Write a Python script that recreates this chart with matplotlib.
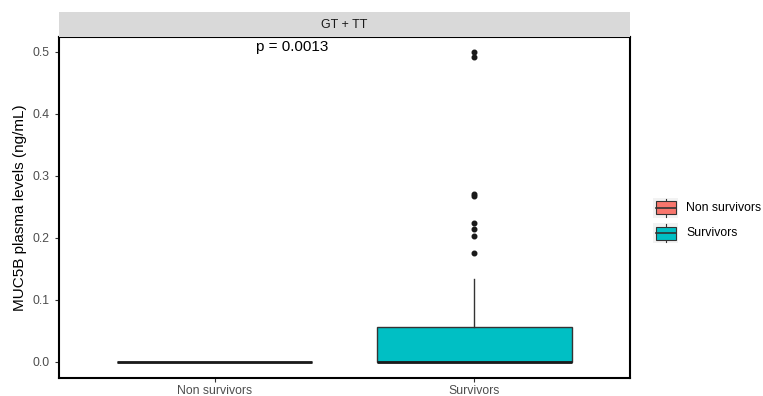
import matplotlib
matplotlib.use("Agg")
import matplotlib.pyplot as plt
from matplotlib.patches import Rectangle
from matplotlib.lines import Line2D

plt.rcParams['font.family'] = ['Liberation Sans', 'DejaVu Sans']

categories = ["Non survivors", "Survivors"]
colors = ["#F8766D", "#00BFC4"]
# box statistics (ng/mL)
q1 = [0.0, 0.0]
med = [0.0, 0.0]
q3 = [0.0, 0.0556]
whislo = [0.0, 0.0]
whishi = [0.0, 0.134]
outliers = [[], [0.500, 0.4925, 0.270, 0.267, 0.2247, 0.2140, 0.2032, 0.1763]]
facet = "GT + TT"
p_label = "p = 0.0013"
yticks = [0.0, 0.1, 0.2, 0.3, 0.4, 0.5]

W, H = 763, 396
fig = plt.figure(figsize=(W/100, H/100), dpi=100)
L, R, T, B = 59, 630, 37, 378
ax = fig.add_axes([L/W, 1 - B/H, (R-L)/W, (B-T)/H])

stats = []
for i in range(len(categories)):
    stats.append(dict(med=med[i], q1=q1[i], q3=q3[i], whislo=whislo[i],
                      whishi=whishi[i], fliers=outliers[i], label=categories[i]))
bp = ax.bxp(stats, positions=[1, 2], widths=0.75, patch_artist=True,
            showcaps=False,
            boxprops=dict(edgecolor="#333333", linewidth=1.0),
            medianprops=dict(color="#1a1a1a", linewidth=2.0),
            whiskerprops=dict(color="#333333", linewidth=1.0),
            flierprops=dict(marker="o", markerfacecolor="#1a1a1a",
                            markeredgecolor="#1a1a1a", markersize=3.3))
for patch, c in zip(bp["boxes"], colors):
    patch.set_facecolor(c)

ax.set_xlim(0.4, 2.6)
ax.set_ylim(-0.026, 0.524)
ax.set_yticks(yticks)
ax.set_yticklabels([f"{v:.1f}" for v in yticks])
ax.set_xticks([1, 2])
ax.set_xticklabels(categories)
ax.tick_params(axis="both", colors="#333333", labelcolor="#4D4D4D",
               labelsize=8.8, length=3, width=0.8)
ax.tick_params(axis="x", pad=2)
for s in ax.spines.values():
    s.set_linewidth(1.5)
    s.set_color("black")
ax.set_ylabel("MUC5B plasma levels (ng/mL)", fontsize=11, color="black", labelpad=4)

ax.text(1.3, 0.508, p_label, ha="center", va="center", fontsize=11, color="black")

# facet strip
sax = fig.add_axes([L/W, 1 - T/H, (R-L)/W, (T-12)/H])
sax.set_facecolor("#D9D9D9")
sax.set_xticks([]); sax.set_yticks([])
for s in sax.spines.values():
    s.set_visible(False)
sax.text(0.5, 0.5, facet, ha="center", va="center", fontsize=9, color="#1A1A1A",
         transform=sax.transAxes)

# legend (drawn in figure pixel coordinates)
def fx(x):
    return x / W
def fy(y):
    return 1 - y / H

key_centers = [208, 233]
for cy, c, lab in zip(key_centers, colors, categories):
    fig.patches.append(Rectangle((fx(653), fy(cy + 10)), 25 / W, 20 / H,
                                 facecolor="#F2F2F2", edgecolor="none",
                                 transform=fig.transFigure, zorder=0.2))
    fig.lines.append(Line2D([fx(665.5), fx(665.5)], [fy(cy + 9), fy(cy - 9)],
                            color="#333333", lw=0.8, transform=fig.transFigure,
                            zorder=0.5))
    fig.patches.append(Rectangle((fx(656), fy(cy + 6.5)), 20 / W, 13 / H,
                                 facecolor=c, edgecolor="#333333", lw=0.8,
                                 transform=fig.transFigure, zorder=1))
    fig.lines.append(Line2D([fx(656), fx(676)], [fy(cy), fy(cy)],
                            color="#333333", lw=1.2, transform=fig.transFigure,
                            zorder=2))
    fig.text(fx(686), fy(cy), lab, ha="left", va="center", fontsize=8.8,
             color="black")

fig.savefig("out.png", dpi=100)
